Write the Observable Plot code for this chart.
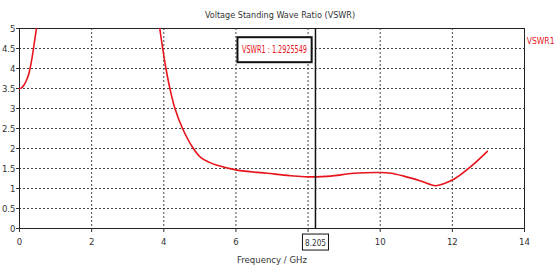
<!DOCTYPE html>
<html><head><meta charset="utf-8">
<script src="https://cdn.jsdelivr.net/npm/d3@7"></script>
<script src="https://cdn.jsdelivr.net/npm/@observablehq/plot@0.6"></script>
<style>body{margin:0;background:#fff}</style>
</head><body><div id="chart"></div>
<script>
// Data
const freqLow = [0, 0.05, 0.12, 0.2, 0.26, 0.35, 0.42, 0.47, 0.55, 0.65];
const vswrLow = [3.5, 3.51, 3.58, 3.72, 3.87, 4.28, 4.7, 5.0, 5.5, 6.2];
const freqHigh = [3.74, 3.82, 3.89, 3.97, 4.06, 4.17, 4.31, 4.52, 4.82, 5.02, 5.25, 5.48, 6.03, 6.87, 7.51, 8.2, 8.62, 9.27, 10.0, 10.3, 10.65, 11.12, 11.53, 11.76, 12.04, 12.5, 12.97];
const vswrHigh = [6.3, 5.6, 5.0, 4.5, 4.0, 3.5, 3.0, 2.5, 2.0, 1.78, 1.66, 1.58, 1.46, 1.38, 1.32, 1.29, 1.31, 1.38, 1.40, 1.38, 1.31, 1.19, 1.07, 1.12, 1.23, 1.54, 1.93];
const xTicks = [0, 2, 4, 6, 8, 10, 12, 14];
const yTicks = [0, 0.5, 1, 1.5, 2, 2.5, 3, 3.5, 4, 4.5, 5];
const markerFreq = 8.205;
const markerValue = 1.2925549;
const seriesName = "VSWR1";
const titleText = "Voltage Standing Wave Ratio (VSWR)";
const xLabel = "Frequency / GHz";

const rows = [
  ...freqLow.map((f, i) => ({f, v: vswrLow[i], seg: "a"})),
  ...freqHigh.map((f, i) => ({f, v: vswrHigh[i], seg: "b"}))
];
const font = "'DejaVu Sans Condensed',sans-serif";
const red = "#e8141c";

const plot = Plot.plot({
  width: 558, height: 269,
  marginLeft: 19, marginRight: 34, marginTop: 28, marginBottom: 41,
  style: {fontFamily: font, fontSize: "9.5px", color: "#333", background: "#fff"},
  x: {domain: [0, 14], label: null},
  y: {domain: [0, 5], label: null},
  marks: [
    Plot.gridX(xTicks, {stroke: "#333", strokeOpacity: 0.9, strokeDasharray: "2,2"}),
    Plot.gridY(yTicks, {stroke: "#333", strokeOpacity: 0.9, strokeDasharray: "2,2"}),
    Plot.frame({stroke: "#222"}),
    Plot.axisX(xTicks, {tickSize: 4, tickPadding: 6, stroke: "#333", fill: "#333",
      tickFormat: d => d === 8 ? "" : String(d), label: xLabel, labelAnchor: "center", labelArrow: "none", labelOffset: 34}),
    Plot.axisY(yTicks, {tickSize: 3, tickPadding: 1, stroke: "#333", fill: "#333", tickFormat: d => String(d), label: null}),
    Plot.line(rows, {x: "f", y: "v", z: "seg", stroke: red, strokeWidth: 1.6, curve: "catmull-rom", clip: true}),
    Plot.ruleX([markerFreq], {stroke: "#111", strokeWidth: 1.5}),
    Plot.text([titleText], {frameAnchor: "top", lineAnchor: "middle", dx: 8, dy: -13, text: d => d, fill: "#333", fontSize: 9}),
    Plot.text([seriesName], {frameAnchor: "top-right", lineAnchor: "middle", dx: 30, dy: 13, textAnchor: "end", text: d => d, fill: red, fontSize: 8.5}),
    Plot.text([markerValue], {x: markerFreq, frameAnchor: "top", lineAnchor: "middle", dx: -41, dy: 21.5, text: d => `${seriesName} : ${d}`, fill: red, fontSize: 10, ariaDescription: "annot"}),
    Plot.text([markerFreq], {x: d => d, frameAnchor: "bottom", lineAnchor: "middle", dy: 14, text: d => String(d), fill: "#333", fontSize: 9.5, ariaDescription: "mlabel"})
  ]
});
document.getElementById("chart").append(plot);

function squeeze(label, len) {
  const g = plot.querySelector(`g[aria-description="${label}"]`);
  if (!g) return;
  g.querySelectorAll("text").forEach(t => {
    t.setAttribute("textLength", len);
    t.setAttribute("lengthAdjust", "spacingAndGlyphs");
  });
}
function boxAround(label, px, py, sw) {
  const g = plot.querySelector(`g[aria-description="${label}"]`);
  if (!g) return;
  g.querySelectorAll("text").forEach(t => {
    const b = t.getBBox();
    const r = document.createElementNS("http://www.w3.org/2000/svg", "rect");
    r.setAttribute("x", b.x - px); r.setAttribute("y", b.y - py);
    r.setAttribute("width", b.width + 2 * px); r.setAttribute("height", b.height + 2 * py);
    r.setAttribute("fill", "#fff"); r.setAttribute("stroke", "#111"); r.setAttribute("stroke-width", sw);
    const tr = t.getAttribute("transform");
    if (tr) r.setAttribute("transform", tr);
    t.parentNode.insertBefore(r, t);
  });
}
squeeze("annot", 65);
squeeze("mlabel", 21);
boxAround("annot", 4.5, 7, 2);
boxAround("mlabel", 2.5, 2.5, 1);
</script>
</body></html>
